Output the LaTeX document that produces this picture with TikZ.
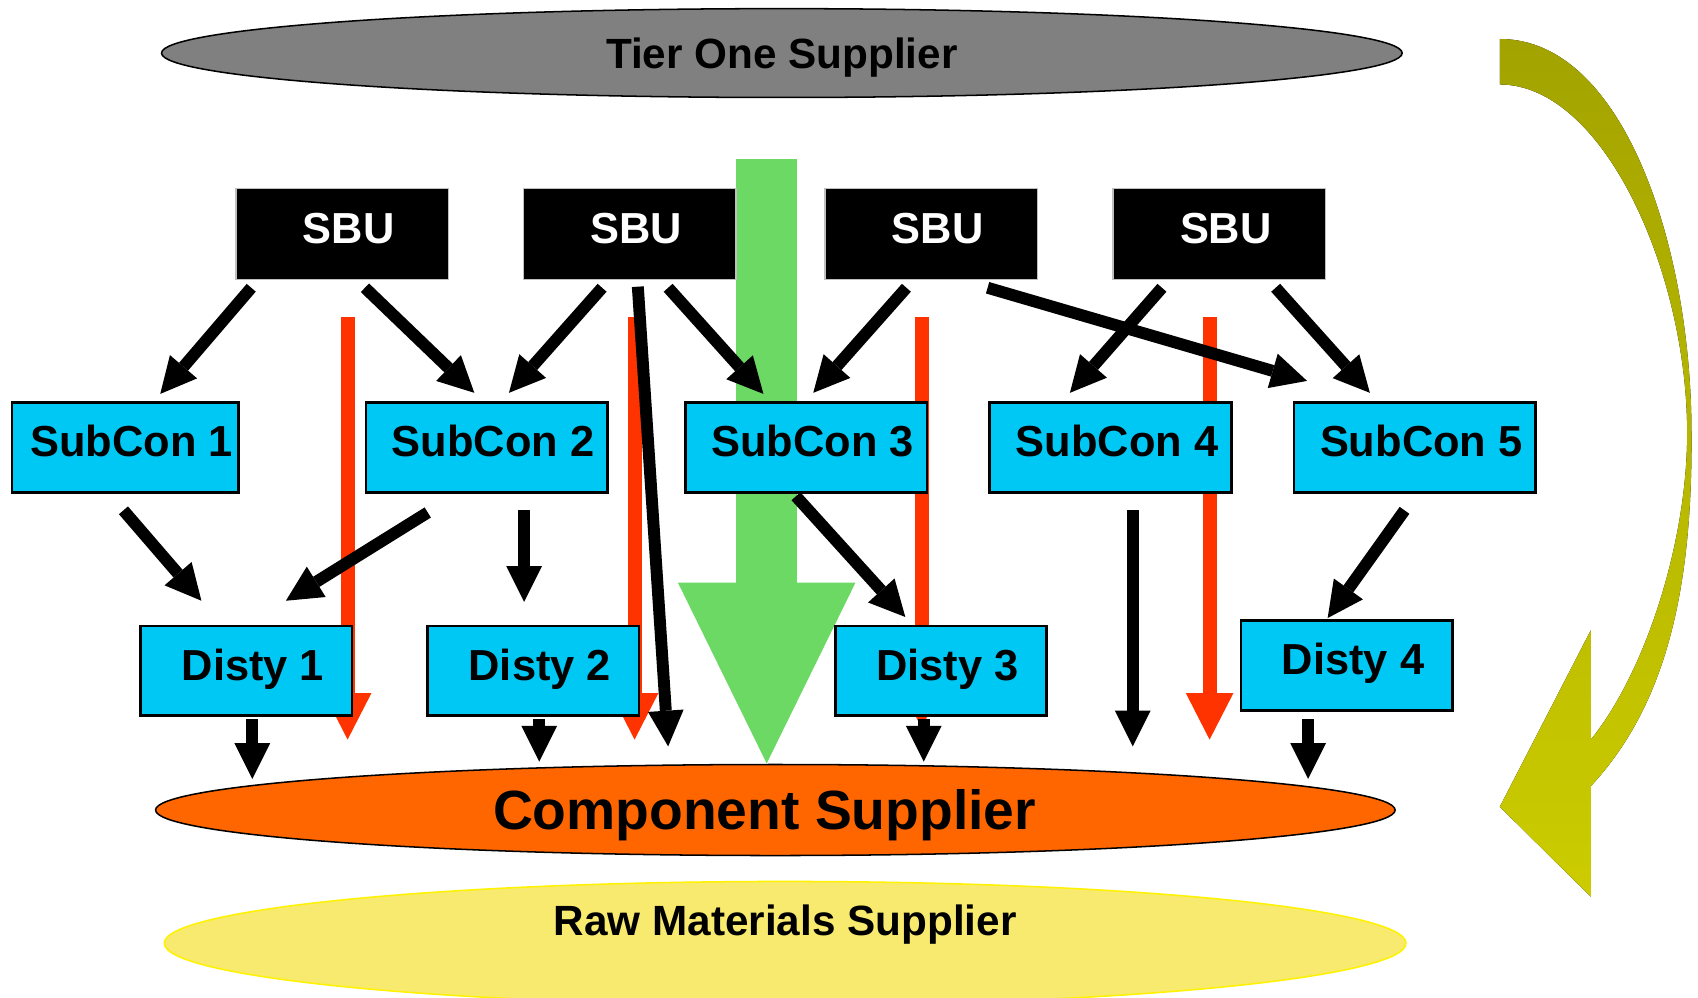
\documentclass[tikz,border=0pt]{standalone}
\usepackage{fontspec}
\setmainfont{Liberation Sans}
\usetikzlibrary{arrows.meta,shapes.geometric,calc}
\definecolor{tiergray}{RGB}{128,128,128}
\definecolor{subcyan}{RGB}{0,200,245}
\definecolor{comporange}{RGB}{255,102,0}
\definecolor{rawyellow}{RGB}{247,234,110}
\definecolor{flowgreen}{RGB}{108,217,100}
\definecolor{flowred}{RGB}{255,51,0}
\definecolor{oliveA}{RGB}{163,163,0}
\definecolor{oliveB}{RGB}{204,204,0}

\begin{document}
\begin{tikzpicture}[x=0.01cm,y=-0.01cm,
    sbu/.style={rectangle,fill=black,draw=gray!50,thin,text=white,inner sep=0pt,
      minimum width=1.96cm,minimum height=0.84cm,text height=0.29cm,text depth=0.12cm,
      execute at begin node=\hspace*{0.12cm},font=\bfseries\fontsize{11.4}{13}\selectfont},
    subcon/.style={sbu,fill=subcyan,draw=black,line width=0.7pt,text=black,
      minimum width=2.23cm,minimum height=0.83cm},
    disty/.style={subcon,minimum width=1.95cm},
    supplier/.style={ellipse,draw=black,thin,inner sep=0pt,text height=0.28cm,text depth=0pt,
      font=\bfseries\fontsize{11.1}{13}\selectfont},
    blk/.style={line width=0.11cm,-{Triangle[length=0.33cm,width=0.33cm,line width=0pt]}},
    redarr/.style={flowred,line width=0.13cm,-{Triangle[length=0.43cm,width=0.44cm,line width=0pt]}}]
  \useasboundingbox (0,0) rectangle (1568,921);

  \node[supplier,fill=tiergray,minimum width=11.45cm,minimum height=0.82cm] (tier) at (722,49) {Tier One Supplier};
  \node[supplier,fill=comporange,minimum width=11.44cm,minimum height=0.84cm,text height=0.365cm,
    font=\bfseries\fontsize{14.5}{17}\selectfont] (comp) at (716,748) {\hspace*{-0.2cm}Component Supplier};
  \node[supplier,fill=rawyellow,draw=yellow,minimum width=11.46cm,minimum height=1.14cm,text depth=0.42cm]
    (raw) at (725,871) {Raw Materials Supplier};

  \draw[flowgreen,line width=0.56cm,-{Triangle[length=1.67cm,width=1.64cm,line width=0pt]}] (708,147) -- (708,705);
  \foreach \x/\y in {321/683,586/683,851/672,1117/683}
    \draw[redarr] (\x,293) -- (\x,\y);

  \fill[top color=oliveA,bottom color=oliveB]
    (1385,36) .. controls (1500,36) and (1562,230) .. (1562,400)
    .. controls (1563,540) and (1540,650) .. (1469,726)
    -- (1469,828) -- (1385,745) -- (1469,582) -- (1469,683)
    .. controls (1520,620) and (1558,500) .. (1558,400)
    .. controls (1558,250) and (1480,78) .. (1385,78) -- cycle;

  \node[sbu] (sbu1) at (316,216) {SBU};
  \node[sbu] (sbu2) at (581.5,216) {SBU};
  \node[sbu] (sbu3) at (860,216) {SBU};
  \node[sbu] (sbu4) at (1126,216) {SBU};

  \node[subcon,minimum width=2.09cm] (sub1) at (115.5,413.5) {SubCon 1};
  \node[subcon] (sub2) at (449.5,413.5) {SubCon 2};
  \node[subcon] (sub3) at (744.5,413.5) {SubCon 3};
  \node[subcon] (sub4) at (1025.5,413.5) {SubCon 4};
  \node[subcon] (sub5) at (1306.5,413.5) {SubCon 5};

  \node[disty] (dis1) at (227.5,619.5) {Disty 1};
  \node[disty] (dis2) at (492.5,619.5) {Disty 2};
  \node[disty] (dis3) at (869,619.5) {Disty 3};
  \node[disty] (dis4) at (1243.5,614.5) {Disty 4};

  \draw[blk] ($(sbu1.south)+(-84,7)$) -- ($(sub1.north)+(32.5,-7)$);
  \draw[blk] ($(sbu1.south)+(21,7)$) -- ($(sub2.north)+(-11.5,-8)$);
  \draw[blk] ($(sbu2.south)+(-25.5,7)$) -- ($(sub2.north)+(20.5,-8)$);
  \draw[blk] ($(sbu2.south)+(7.5,6)$) -- ($(comp.north)+(-99,-16)$);
  \draw[blk] ($(sbu2.south)+(35.5,7)$) -- ($(sub3.north)+(-39.5,-7)$);
  \draw[blk] ($(sbu3.south)+(-23,7)$) -- ($(sub3.north)+(6.5,-8)$);
  \draw[blk] ($(sbu3.south)+(52,7)$) -- ($(sub5.north)+(-99.5,-19)$);
  \draw[blk] ($(sbu4.south)+(-53,7)$) -- ($(sub4.north)+(-37.5,-8)$);
  \draw[blk] ($(sbu4.south)+(52,7)$) -- ($(sub5.north)+(-41.5,-8)$);

  \draw[blk] ($(sub1.south)+(-1.5,15)$) -- ($(dis1.north)+(-41.5,-22)$);
  \draw[blk] ($(sub2.south)+(-54.5,17)$) -- ($(dis1.north)+(36.5,-22)$);
  \draw[blk] ($(sub2.south)+(34.5,15)$) -- ($(dis2.north)+(-8.5,-21)$);
  \draw[blk] ($(sub3.south)+(-9.5,2)$) -- ($(dis3.north)+(-33,-7)$);
  \draw[blk] ($(sub4.south)+(20.5,15)$) -- ($(comp.north)+(330,-16)$);
  \draw[blk] ($(sub5.south)+(-9.5,15)$) -- ($(dis4.north)+(-17.5,-1)$);

  \draw[blk] ($(dis1.south)+(5.5,2)$) -- ($(comp.north)+(-483,14)$);
  \draw[blk] ($(dis2.south)+(5.5,2)$) -- ($(comp.north)+(-218,-2)$);
  \draw[blk] ($(dis3.south)+(-16,2)$) -- ($(comp.north)+(137,-2)$);
  \draw[blk] ($(dis4.south)+(-35.5,7)$) -- ($(comp.north)+(492,14)$);
\end{tikzpicture}
\end{document}
